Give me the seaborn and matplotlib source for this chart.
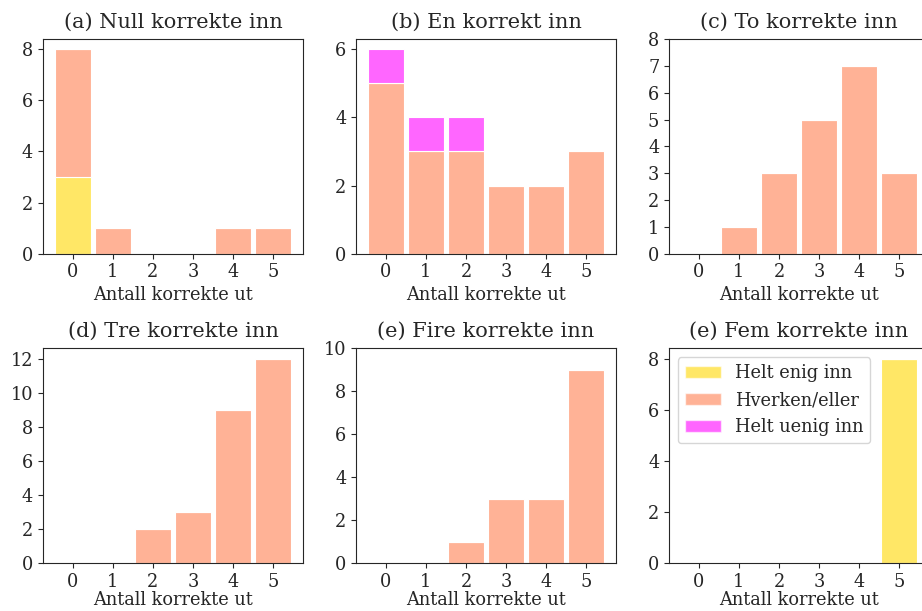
import numpy as np
import pandas as pd
import matplotlib
matplotlib.use("Agg")
import matplotlib.pyplot as plt
from matplotlib.patches import Patch
import seaborn as sns

# Number of correct answers "out" (x axis) for each panel
antall_ut = [0, 1, 2, 3, 4, 5]

titler = [
    "(a) Null korrekte inn",
    "(b) En korrekt inn",
    "(c) To korrekte inn",
    "(d) Tre korrekte inn",
    "(e) Fire korrekte inn",
    "(e) Fem korrekte inn",
]

kategorier = ["Helt enig inn", "Hverken/eller", "Helt uenig inn"]

# Counts per category, one list per panel
helt_enig = [
    [3, 0, 0, 0, 0, 0],
    [0, 0, 0, 0, 0, 0],
    [0, 0, 0, 0, 0, 0],
    [0, 0, 0, 0, 0, 0],
    [0, 0, 0, 0, 0, 0],
    [0, 0, 0, 0, 0, 8],
]
hverken_eller = [
    [5, 1, 0, 0, 1, 1],
    [5, 3, 3, 2, 2, 3],
    [0, 1, 3, 5, 7, 3],
    [0, 0, 2, 3, 9, 12],
    [0, 0, 1, 3, 3, 9],
    [0, 0, 0, 0, 0, 0],
]
helt_uenig = [
    [0, 0, 0, 0, 0, 0],
    [1, 1, 1, 0, 0, 0],
    [0, 0, 0, 0, 0, 0],
    [0, 0, 0, 0, 0, 0],
    [0, 0, 0, 0, 0, 0],
    [0, 0, 0, 0, 0, 0],
]

farger = {"Helt enig inn": "gold", "Hverken/eller": "coral", "Helt uenig inn": "magenta"}

y_grenser = [None, None, (0, 8), None, (0, 10), None]
y_ticks = [
    [0, 2, 4, 6, 8],
    [0, 2, 4, 6],
    [0, 1, 2, 3, 4, 5, 6, 7, 8],
    [0, 2, 4, 6, 8, 10, 12],
    [0, 2, 4, 6, 8, 10],
    [0, 2, 4, 6, 8],
]

sns.set_style("ticks")
plt.rcParams["font.family"] = ["DejaVu Serif"]
plt.rcParams["axes.edgecolor"] = "0.15"
plt.rcParams["xtick.color"] = "0.15"
plt.rcParams["ytick.color"] = "0.15"
plt.rcParams["text.color"] = "0.15"
plt.rcParams["axes.labelcolor"] = "0.15"

fig, axes = plt.subplots(2, 3, figsize=(9.22, 6.11), dpi=100)
fig.subplots_adjust(left=0.0466, right=1.0076, bottom=0.0786, top=0.936,
                    wspace=0.204, hspace=0.442)

for i, ax in enumerate(axes.flat):
    rows = []
    for kat, serie in zip(kategorier, [helt_enig[i], hverken_eller[i], helt_uenig[i]]):
        for x, v in zip(antall_ut, serie):
            rows.append({"ut": x, "kategori": kat, "antall": v})
    df = pd.DataFrame(rows)
    # seaborn stacks the last hue level at the bottom
    sns.histplot(
        data=df, x="ut", weights="antall", hue="kategori",
        hue_order=kategorier[::-1], palette=farger,
        multiple="stack", discrete=True, shrink=0.9,
        alpha=0.6, edgecolor="white", linewidth=0.8,
        legend=False, ax=ax,
    )
    ax.set_xlim(-0.745, 5.745)
    if y_grenser[i] is not None:
        ax.set_ylim(*y_grenser[i])
    ax.set_xticks(antall_ut)
    ax.set_yticks(y_ticks[i])
    ax.tick_params(labelsize=12.8)
    ax.set_title(titler[i], fontsize=15, pad=8.5)
    # keep the bottom row's labels inside the figure
    ax.set_xlabel("Antall korrekte ut", fontsize=12.8,
                  labelpad=3 if i < 3 else 0.5)
    ax.set_ylabel("")

handles = [Patch(facecolor=farger[k], alpha=0.6, label=k) for k in kategorier]
axes[1, 2].legend(handles=handles, loc="upper left", fontsize=12.8)

fig.savefig("out.png", dpi=100)
